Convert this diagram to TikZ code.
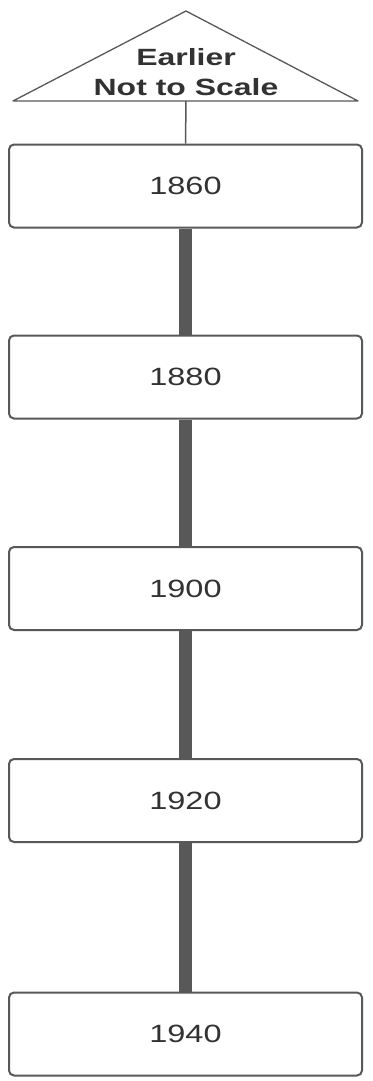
\documentclass[tikz,border=0pt]{standalone}
\usepackage{fontspec}
\setmainfont{Liberation Sans}
\newfontfamily\yearfont[FakeStretch=1.3]{Liberation Sans}
\newfontfamily\capfont[FakeStretch=1.36]{Liberation Sans}
\definecolor{edgegray}{RGB}{88,88,88}
\definecolor{bargray}{RGB}{88,88,88}
\definecolor{textgray}{RGB}{50,50,50}
\tikzset{
	yearbox/.style={draw=edgegray, line width=2pt, rounded corners=5pt, fill=white,
		minimum width=353pt, minimum height=83pt, inner sep=0pt,
		font=\yearfont\fontsize{25}{29}\selectfont, text=textgray},
	bar/.style={draw=bargray, line width=12.5pt},
	captext/.style={anchor=base, inner sep=0pt, text=textgray,
		font=\capfont\bfseries\fontsize{23.5}{29}\selectfont},
}
\begin{document}
\begin{tikzpicture}[x=1pt, y=-1pt]
	\useasboundingbox (0,0) rectangle (372,1081);
	% earlier marker
	\draw[edgegray, line width=1.3pt, line join=round] (13,101) -- (186,11) -- (358,101) -- cycle;
	\coordinate (tip) at (186,101);
	\node[captext] (earlier) at (186,66) {Earlier};
	\node[captext] (scale) at (186,95.5) {Not to Scale};
	% years
	\foreach \yr/\y in {1860/186, 1880/377, 1900/588.5, 1920/800.5, 1940/1034}
		\node[yearbox] (y\yr) at (185.5,\y) {\yr};
	\draw[edgegray, line width=1.5pt] (tip) -- (y1860.north);
	\foreach \a/\b in {1860/1880, 1880/1900, 1900/1920, 1920/1940}
		\draw[bar] (y\a.south) -- (y\b.north);
\end{tikzpicture}
\end{document}
